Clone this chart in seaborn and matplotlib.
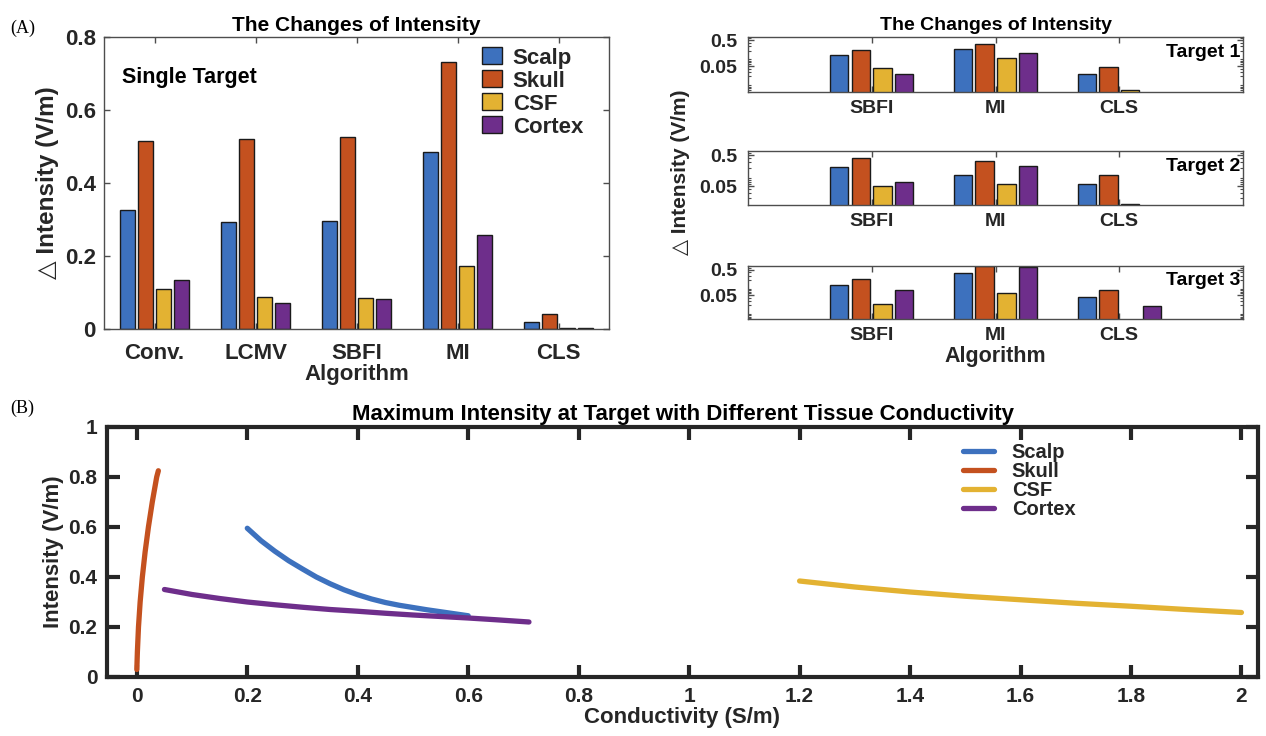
import numpy as np
import pandas as pd
import matplotlib
matplotlib.use("Agg")
import matplotlib.pyplot as plt
import seaborn as sns
from matplotlib.ticker import FixedLocator, NullFormatter, LogLocator, FuncFormatter

# ---------------- data ----------------
tissues = ["Scalp", "Skull", "CSF", "Cortex"]
colors = ["#3D71BE", "#C4511F", "#E3B232", "#6E2E8B"]

algs_single = ["Conv.", "LCMV", "SBFI", "MI", "CLS"]
single_scalp = [0.325, 0.292, 0.295, 0.485, 0.019]
single_skull = [0.514, 0.521, 0.525, 0.731, 0.040]
single_csf = [0.110, 0.087, 0.084, 0.172, 0.003]
single_cortex = [0.134, 0.072, 0.082, 0.257, 0.003]

algs_multi = ["SBFI", "MI", "CLS"]
t1_scalp = [0.130, 0.225, 0.025]
t1_skull = [0.212, 0.368, 0.045]
t1_csf = [0.043, 0.098, 0.0058]
t1_cortex = [0.025, 0.160, 0.001]

t2_scalp = [0.206, 0.118, 0.057]
t2_skull = [0.419, 0.325, 0.118]
t2_csf = [0.050, 0.060, 0.0128]
t2_cortex = [0.066, 0.222, 0.001]

t3_scalp = [0.129, 0.369, 0.042]
t3_skull = [0.222, 0.690, 0.083]
t3_csf = [0.023, 0.061, 0.001]
t3_cortex = [0.083, 0.670, 0.018]

scalp_x = [0.200, 0.225, 0.250, 0.275, 0.300, 0.325, 0.350, 0.375, 0.400,
           0.425, 0.450, 0.475, 0.500, 0.525, 0.550, 0.575, 0.600]
scalp_y = [0.595, 0.545, 0.503, 0.465, 0.432, 0.400, 0.373, 0.349, 0.329,
           0.312, 0.298, 0.287, 0.278, 0.269, 0.261, 0.253, 0.245]
skull_x = [0.000, 0.001, 0.003, 0.006, 0.010, 0.015, 0.021, 0.028, 0.036, 0.039]
skull_y = [0.030, 0.100, 0.200, 0.300, 0.400, 0.500, 0.600, 0.700, 0.800, 0.825]
csf_x = [1.2, 1.3, 1.4, 1.5, 1.6, 1.7, 1.8, 1.9, 2.0]
csf_y = [0.384, 0.360, 0.340, 0.323, 0.309, 0.295, 0.283, 0.270, 0.258]
cortex_x = [0.05, 0.10, 0.15, 0.20, 0.25, 0.30, 0.35, 0.40, 0.45, 0.50,
            0.55, 0.60, 0.65, 0.71]
cortex_y = [0.350, 0.330, 0.314, 0.300, 0.289, 0.279, 0.270, 0.263, 0.255, 0.248,
            0.242, 0.236, 0.229, 0.220]

# ---------------- style ----------------
sns.set_theme(style="white")
plt.rcParams["font.family"] = ["Liberation Sans", "DejaVu Sans"]
plt.rcParams["font.weight"] = "bold"
TXT = "#262626"

fig = plt.figure(figsize=(12.66, 7.36), dpi=100)
W, H = 1266.0, 736.0

def axes_px(x0, x1, y0, y1):
    return fig.add_axes([x0 / W, 1 - y1 / H, (x1 - x0) / W, (y1 - y0) / H])

def bar_df(cats, s, k, c, x):
    rows = []
    for i, cat in enumerate(cats):
        for t, arr in zip(tissues, [s, k, c, x]):
            rows.append({"alg": cat, "tissue": t, "val": arr[i]})
    return pd.DataFrame(rows)

def style_box(ax, lw=1.0, color="#4d4d4d"):
    for sp in ax.spines.values():
        sp.set_visible(True)
        sp.set_linewidth(lw)
        sp.set_color(color)

# ---------------- (A) left ----------------
axL = axes_px(104, 609, 37, 329)
dfL = bar_df(algs_single, single_scalp, single_skull, single_csf, single_cortex)
sns.barplot(data=dfL, x="alg", y="val", hue="tissue", palette=colors, saturation=1,
            width=0.7, gap=0.15, edgecolor="#1a1a1a", linewidth=1.0, ax=axL, legend=True)
axL.set_xlim(-0.5, 4.5)
axL.set_ylim(0, 0.8)
axL.set_yticks([0, 0.2, 0.4, 0.6, 0.8])
axL.yaxis.set_major_formatter(FuncFormatter(lambda v, p: f"{v:g}"))
style_box(axL)
axL.tick_params(direction="in", length=4, width=1, color="#4d4d4d",
                top=True, right=True, bottom=True, left=True,
                labelsize=16, labelcolor=TXT)
axL.tick_params(axis="x", pad=10)
axL.tick_params(axis="y", pad=6)
for lab in axL.get_xticklabels() + axL.get_yticklabels():
    lab.set_fontweight("bold")
axL.set_xlabel("Algorithm", fontsize=16, fontweight="bold", color=TXT, labelpad=0)
axL.set_ylabel("△ Intensity (V/m)", fontsize=17.5, fontweight="bold", color=TXT, labelpad=4)
axL.set_title("The Changes of Intensity", fontsize=15, fontweight="bold", color="black", pad=4)
axL.text(0.036, 0.86, "Single Target", transform=axL.transAxes, fontsize=15.5,
         fontweight="bold", color="black", va="center")
leg = axL.legend(loc="upper right", bbox_to_anchor=(0.975, 1.01), frameon=False,
                 fontsize=16, handlelength=0.9, handleheight=0.8, handletextpad=0.5,
                 labelspacing=0.08, borderaxespad=0.2)
for t in leg.get_texts():
    t.set_fontweight("bold")
    t.set_color(TXT)

# ---------------- (A) right ----------------
panels = [
    ((37, 92), (0.0049, 0.67), "Target 1", (t1_scalp, t1_skull, t1_csf, t1_cortex)),
    ((151, 205), (0.0123, 0.69), "Target 2", (t2_scalp, t2_skull, t2_csf, t2_cortex)),
    ((266, 319), (0.0057, 0.72), "Target 3", (t3_scalp, t3_skull, t3_csf, t3_cortex)),
]
right_axes = []
for (y0, y1), ylim, name, vals in panels:
    ax = axes_px(748, 1243, y0, y1)
    df = bar_df(algs_multi, *vals)
    sns.barplot(data=df, x="alg", y="val", hue="tissue", palette=colors, saturation=1,
                width=0.7, gap=0.15, edgecolor="#1a1a1a", linewidth=1.0, ax=ax, legend=False)
    ax.set_yscale("log")
    ax.set_xlim(-1, 3)
    ax.set_ylim(*ylim)
    ax.yaxis.set_major_locator(FixedLocator([0.05, 0.5]))
    ax.yaxis.set_major_formatter(FuncFormatter(lambda v, p: f"{v:g}"))
    ax.yaxis.set_minor_locator(LogLocator(base=10, subs=np.arange(2, 10)))
    ax.yaxis.set_minor_formatter(NullFormatter())
    style_box(ax)
    ax.tick_params(which="both", direction="in", color="#4d4d4d",
                   top=True, right=True, bottom=True, left=True)
    ax.tick_params(which="major", length=4, width=1, labelsize=14, labelcolor=TXT, pad=8)
    ax.tick_params(axis="x", which="major", pad=6)
    ax.tick_params(which="minor", length=2, width=0.8)
    for lab in ax.get_xticklabels() + ax.get_yticklabels():
        lab.set_fontweight("bold")
    ax.set_xlabel("")
    ax.set_ylabel("")
    ax.text(0.995, 0.72, name, transform=ax.transAxes, ha="right", va="center",
            fontsize=14, fontweight="bold", color="black")
    right_axes.append(ax)

right_axes[0].set_title("The Changes of Intensity", fontsize=14, fontweight="bold",
                        color="black", pad=5)
right_axes[2].set_xlabel("Algorithm", fontsize=15.5, fontweight="bold", color=TXT, labelpad=1)
fig.text(680 / W, 1 - 172 / H, "△ Intensity (V/m)", rotation=90, ha="center", va="center",
         fontsize=15, fontweight="bold", color=TXT)

# ---------------- (B) ----------------
axB = axes_px(107, 1258, 427, 677)
rows = []
for t, xs, ys in zip(tissues, [scalp_x, skull_x, csf_x, cortex_x],
                     [scalp_y, skull_y, csf_y, cortex_y]):
    for xv, yv in zip(xs, ys):
        rows.append({"tissue": t, "x": xv, "y": yv})
dfB = pd.DataFrame(rows)
sns.lineplot(data=dfB, x="x", y="y", hue="tissue", hue_order=tissues, palette=colors,
             linewidth=3.8, sort=False, estimator=None, ax=axB, legend=True)
for ln in axB.get_lines():
    ln.set_solid_joinstyle("round")
axB.set_xlim(-0.054, 2.03)
axB.set_ylim(0, 1)
axB.set_xticks(np.round(np.arange(0, 2.01, 0.2), 1))
axB.set_yticks(np.round(np.arange(0, 1.01, 0.2), 1))
axB.xaxis.set_major_formatter(FuncFormatter(lambda v, p: f"{v:g}"))
axB.yaxis.set_major_formatter(FuncFormatter(lambda v, p: f"{v:g}"))
style_box(axB, lw=3.0, color="#262626")
axB.tick_params(direction="in", length=9, width=3, color="#262626",
                top=True, right=True, bottom=True, left=True,
                labelsize=15, labelcolor=TXT, pad=7)
for lab in axB.get_xticklabels() + axB.get_yticklabels():
    lab.set_fontweight("bold")
axB.set_xlabel("Conductivity (S/m)", fontsize=16, fontweight="bold", color=TXT, labelpad=1)
axB.set_ylabel("Intensity (V/m)", fontsize=16, fontweight="bold", color=TXT, labelpad=3)
axB.set_title("Maximum Intensity at Target with Different Tissue Conductivity",
              fontsize=16, fontweight="bold", color="black", pad=5)
legB = axB.legend(loc="upper left", bbox_to_anchor=(0.737, 0.97), frameon=False,
                  fontsize=14.5, handlelength=1.5, handletextpad=0.9, labelspacing=0.0,
                  borderaxespad=0)
for t in legB.get_texts():
    t.set_fontweight("bold")
    t.set_color(TXT)
for l in legB.get_lines():
    l.set_linewidth(3.8)

fig.text(10 / W, 1 - 28 / H, "(A)", family="Liberation Serif", fontweight="normal",
         fontsize=13, va="center", color="black")
fig.text(10 / W, 1 - 408 / H, "(B)", family="Liberation Serif", fontweight="normal",
         fontsize=13, va="center", color="black")

fig.savefig("out.png", dpi=100, facecolor="white")
